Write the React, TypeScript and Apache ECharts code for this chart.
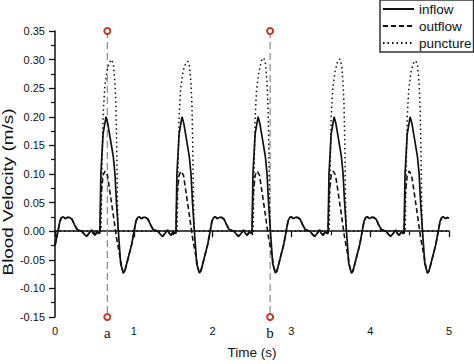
import React, { useEffect, useRef } from "react";
import * as echarts from "echarts";

// Time axis ticks & custom markers
const xTicks = [0, 1, 2, 3, 4, 5];
const markerA = 0.664;
const markerB = 2.73;
const markerTop = 0.35;
const markerBottom = -0.15;
const yTitle = "Blood Velocity (m/s)";
const xTitle = "Time (s)";

const inflow: [number, number][] = [
  [0.000,-0.025],[0.045,0.005],[0.063,0.018],[0.085,0.024],[0.105,0.025],[0.130,0.022],[0.155,0.024],[0.185,0.024],[0.215,0.021],[0.245,0.012],[0.280,0.003],[0.340,0.000],[0.370,-0.005],[0.400,-0.009],[0.430,-0.004],[0.465,0.002],[0.485,-0.004],[0.508,-0.007],[0.535,-0.001],[0.555,-0.004],
  [0.570,-0.003],[0.582,0.100],[0.610,0.170],[0.647,0.200],[0.670,0.188],[0.698,0.165],[0.740,0.130],[0.761,0.100],[0.780,0.050],[0.804,0.000],[0.833,-0.057],[0.867,-0.073],[0.885,-0.070],[0.910,-0.057],[0.973,-0.023],[1.010,0.005],[1.028,0.018],[1.050,0.024],[1.070,0.025],[1.095,0.022],[1.120,0.024],[1.150,0.024],[1.180,0.021],[1.210,0.012],[1.245,0.003],[1.305,0.000],[1.335,-0.005],[1.365,-0.009],[1.395,-0.004],[1.430,0.002],[1.450,-0.004],[1.473,-0.007],[1.500,-0.001],[1.520,-0.004],
  [1.535,-0.003],[1.547,0.100],[1.575,0.170],[1.612,0.200],[1.635,0.188],[1.663,0.165],[1.705,0.130],[1.726,0.100],[1.745,0.050],[1.769,0.000],[1.798,-0.057],[1.832,-0.073],[1.850,-0.070],[1.875,-0.057],[1.938,-0.023],[1.975,0.005],[1.993,0.018],[2.015,0.024],[2.035,0.025],[2.060,0.022],[2.085,0.024],[2.115,0.024],[2.145,0.021],[2.175,0.012],[2.210,0.003],[2.270,0.000],[2.300,-0.005],[2.330,-0.009],[2.360,-0.004],[2.395,0.002],[2.415,-0.004],[2.438,-0.007],[2.465,-0.001],[2.485,-0.004],
  [2.500,-0.003],[2.512,0.100],[2.540,0.170],[2.577,0.200],[2.600,0.188],[2.628,0.165],[2.670,0.130],[2.691,0.100],[2.710,0.050],[2.734,0.000],[2.763,-0.057],[2.797,-0.073],[2.815,-0.070],[2.840,-0.057],[2.903,-0.023],[2.940,0.005],[2.958,0.018],[2.980,0.024],[3.000,0.025],[3.025,0.022],[3.050,0.024],[3.080,0.024],[3.110,0.021],[3.140,0.012],[3.175,0.003],[3.235,0.000],[3.265,-0.005],[3.295,-0.009],[3.325,-0.004],[3.360,0.002],[3.380,-0.004],[3.403,-0.007],[3.430,-0.001],[3.450,-0.004],
  [3.465,-0.003],[3.477,0.100],[3.505,0.170],[3.542,0.200],[3.565,0.188],[3.593,0.165],[3.635,0.130],[3.656,0.100],[3.675,0.050],[3.699,0.000],[3.728,-0.057],[3.762,-0.073],[3.780,-0.070],[3.805,-0.057],[3.868,-0.023],[3.905,0.005],[3.923,0.018],[3.945,0.024],[3.965,0.025],[3.990,0.022],[4.015,0.024],[4.045,0.024],[4.075,0.021],[4.105,0.012],[4.140,0.003],[4.200,0.000],[4.230,-0.005],[4.260,-0.009],[4.290,-0.004],[4.325,0.002],[4.345,-0.004],[4.368,-0.007],[4.395,-0.001],[4.415,-0.004],
  [4.430,-0.003],[4.442,0.100],[4.470,0.170],[4.507,0.200],[4.530,0.188],[4.558,0.165],[4.600,0.130],[4.621,0.100],[4.640,0.050],[4.664,0.000],[4.693,-0.057],[4.727,-0.073],[4.745,-0.070],[4.770,-0.057],[4.833,-0.023],[4.870,0.005],[4.888,0.018],[4.910,0.024],[4.930,0.025],[4.955,0.022],[4.980,0.024],[5.000,0.023],
];

const outflow: [number, number][] = [
  [0.000,-0.025],[0.045,0.005],[0.063,0.018],[0.085,0.024],[0.105,0.025],[0.130,0.022],[0.155,0.024],[0.185,0.024],[0.215,0.021],[0.245,0.012],[0.280,0.003],[0.340,0.000],[0.370,-0.005],[0.400,-0.009],[0.430,-0.004],[0.465,0.002],[0.485,-0.004],[0.508,-0.007],[0.535,-0.001],[0.555,-0.004],
  [0.570,-0.003],[0.582,0.060],[0.610,0.098],[0.635,0.105],[0.665,0.098],[0.698,0.068],[0.740,0.028],[0.780,-0.011],[0.825,-0.045],[0.850,-0.065],[0.867,-0.073],[0.885,-0.070],[0.910,-0.057],[0.973,-0.023],[1.010,0.005],[1.028,0.018],[1.050,0.024],[1.070,0.025],[1.095,0.022],[1.120,0.024],[1.150,0.024],[1.180,0.021],[1.210,0.012],[1.245,0.003],[1.305,0.000],[1.335,-0.005],[1.365,-0.009],[1.395,-0.004],[1.430,0.002],[1.450,-0.004],[1.473,-0.007],[1.500,-0.001],[1.520,-0.004],
  [1.535,-0.003],[1.547,0.060],[1.575,0.098],[1.600,0.105],[1.630,0.098],[1.663,0.068],[1.705,0.028],[1.745,-0.011],[1.790,-0.045],[1.815,-0.065],[1.832,-0.073],[1.850,-0.070],[1.875,-0.057],[1.938,-0.023],[1.975,0.005],[1.993,0.018],[2.015,0.024],[2.035,0.025],[2.060,0.022],[2.085,0.024],[2.115,0.024],[2.145,0.021],[2.175,0.012],[2.210,0.003],[2.270,0.000],[2.300,-0.005],[2.330,-0.009],[2.360,-0.004],[2.395,0.002],[2.415,-0.004],[2.438,-0.007],[2.465,-0.001],[2.485,-0.004],
  [2.500,-0.003],[2.512,0.060],[2.540,0.098],[2.565,0.105],[2.595,0.098],[2.628,0.068],[2.670,0.028],[2.710,-0.011],[2.755,-0.045],[2.780,-0.065],[2.797,-0.073],[2.815,-0.070],[2.840,-0.057],[2.903,-0.023],[2.940,0.005],[2.958,0.018],[2.980,0.024],[3.000,0.025],[3.025,0.022],[3.050,0.024],[3.080,0.024],[3.110,0.021],[3.140,0.012],[3.175,0.003],[3.235,0.000],[3.265,-0.005],[3.295,-0.009],[3.325,-0.004],[3.360,0.002],[3.380,-0.004],[3.403,-0.007],[3.430,-0.001],[3.450,-0.004],
  [3.465,-0.003],[3.477,0.060],[3.505,0.098],[3.530,0.105],[3.560,0.098],[3.593,0.068],[3.635,0.028],[3.675,-0.011],[3.720,-0.045],[3.745,-0.065],[3.762,-0.073],[3.780,-0.070],[3.805,-0.057],[3.868,-0.023],[3.905,0.005],[3.923,0.018],[3.945,0.024],[3.965,0.025],[3.990,0.022],[4.015,0.024],[4.045,0.024],[4.075,0.021],[4.105,0.012],[4.140,0.003],[4.200,0.000],[4.230,-0.005],[4.260,-0.009],[4.290,-0.004],[4.325,0.002],[4.345,-0.004],[4.368,-0.007],[4.395,-0.001],[4.415,-0.004],
  [4.430,-0.003],[4.442,0.060],[4.470,0.098],[4.495,0.105],[4.525,0.098],[4.558,0.068],[4.600,0.028],[4.640,-0.011],[4.685,-0.045],[4.710,-0.065],[4.727,-0.073],[4.745,-0.070],[4.770,-0.057],[4.833,-0.023],[4.870,0.005],[4.888,0.018],[4.910,0.024],[4.930,0.025],[4.955,0.022],[4.980,0.024],[5.000,0.023],
];

const puncture: [number, number][] = [
  [0.000,0],
  [0.585,0],[0.595,0.10],[0.610,0.20],[0.630,0.25],[0.660,0.28],[0.690,0.295],[0.720,0.300],[0.742,0.290],[0.760,0.260],[0.773,0.220],[0.783,0.150],[0.792,0.060],[0.800,0],
  [1.550,0],[1.560,0.10],[1.575,0.20],[1.595,0.25],[1.625,0.28],[1.655,0.292],[1.685,0.297],[1.707,0.288],[1.725,0.260],[1.738,0.220],[1.748,0.150],[1.757,0.060],[1.765,0],
  [2.515,0],[2.525,0.10],[2.540,0.20],[2.560,0.25],[2.590,0.28],[2.620,0.298],[2.650,0.303],[2.672,0.292],[2.690,0.260],[2.703,0.220],[2.713,0.150],[2.722,0.060],[2.730,0],
  [3.480,0],[3.490,0.10],[3.505,0.20],[3.525,0.25],[3.555,0.28],[3.585,0.296],[3.615,0.301],[3.637,0.290],[3.655,0.260],[3.668,0.220],[3.678,0.150],[3.687,0.060],[3.695,0],
  [4.445,0],[4.455,0.10],[4.470,0.20],[4.490,0.25],[4.520,0.28],[4.550,0.294],[4.580,0.298],[4.602,0.288],[4.620,0.260],[4.633,0.220],[4.643,0.150],[4.652,0.060],[4.660,0],
  [5.000,0],
];

const FONT = "Arial, 'Liberation Sans', sans-serif";
const SERIF = "'Liberation Serif', 'Times New Roman', serif";

function markerSeries(x: number, label: string) {
  return {
    type: "line",
    name: "marker-" + label,
    data: [
      { value: [x, markerTop] },
      {
        value: [x, markerBottom],
        label: {
          show: true,
          formatter: label,
          position: "bottom",
          distance: 4,
          fontFamily: SERIF,
          fontSize: 15,
          color: "#111",
        },
      },
    ],
    symbol: "emptyCircle",
    symbolSize: 6,
    itemStyle: { color: "#c0392b", borderWidth: 1 },
    lineStyle: { color: "#8a8a8a", width: 1.2, type: [7, 4] },
    z: 1,
    silent: true,
  };
}

export default function App() {
  const ref = useRef<HTMLDivElement>(null);
  useEffect(() => {
    if (!ref.current) return;
    const chart = echarts.init(ref.current, undefined, { renderer: "svg" });
    const axisCommon = {
      axisLine: { show: true, lineStyle: { color: "#111", width: 1.5 } },
      axisTick: { show: true, inside: false, length: 6, lineStyle: { color: "#111", width: 1.3 } },
      minorTick: { show: true, splitNumber: 2, length: 4, lineStyle: { color: "#111", width: 1.2 } },
      splitLine: { show: false },
    };
    chart.setOption({
      animation: false,
      backgroundColor: "#fff",
      grid: { left: 55, right: 25, top: 31, bottom: 40, containLabel: false },
      legend: {
        data: ["inflow", "outflow", "puncture"],
        orient: "vertical",
        left: 380,
        top: 0,
        padding: [2, 2, 2, 2],
        itemWidth: 31,
        itemHeight: 14,
        itemGap: 3,
        itemTextGap: 5,
        borderColor: "#333",
        borderWidth: 1.5,
        itemStyle: { opacity: 0 },
        textStyle: { fontFamily: FONT, fontSize: 13.5, color: "#111" },
      },
      graphic: [
        {
          type: "text",
          x: 8,
          y: 192,
          rotation: Math.PI / 2,
          scaleX: 1.35,
          style: {
            text: yTitle,
            fontFamily: FONT,
            fontSize: 14,
            fill: "#111",
            align: "center",
            verticalAlign: "middle",
          },
        },
      ],
      xAxis: {
        type: "value",
        min: xTicks[0],
        max: xTicks[xTicks.length - 1],
        interval: 1,
        name: xTitle,
        nameLocation: "middle",
        nameGap: 28,
        nameTextStyle: { fontFamily: FONT, fontSize: 13.5, color: "#111" },
        axisLabel: { fontFamily: FONT, fontSize: 11, color: "#111", margin: 8 },
        ...axisCommon,
      },
      yAxis: {
        type: "value",
        min: -0.15,
        max: 0.35,
        interval: 0.05,
        axisLabel: {
          fontFamily: FONT,
          fontSize: 11,
          color: "#111",
          margin: 10,
          formatter: (v: number) => (Math.abs(v) < 1e-9 ? "0.00" : v.toFixed(2)),
        },
        ...axisCommon,
      },
      series: [
        markerSeries(markerA, "a"),
        markerSeries(markerB, "b"),
        {
          type: "line",
          name: "puncture",
          data: puncture,
          symbol: "none",
          lineStyle: { color: "#111", width: 1.5, type: [1.5, 3] },
          itemStyle: { color: "#111" },
          z: 2,
        },
        {
          type: "line",
          name: "outflow",
          data: outflow,
          symbol: "none",
          lineStyle: { color: "#111", width: 1.6, type: [5, 3] },
          itemStyle: { color: "#111" },
          z: 3,
        },
        {
          type: "line",
          name: "inflow",
          data: inflow,
          symbol: "none",
          lineStyle: { color: "#111", width: 1.7 },
          itemStyle: { color: "#111" },
          z: 4,
        },
      ],
    });
    return () => chart.dispose();
  }, []);
  return (
    <div
      ref={ref}
      style={{ position: "fixed", left: 0, top: 0, width: 474, height: 364 }}
    />
  );
}
